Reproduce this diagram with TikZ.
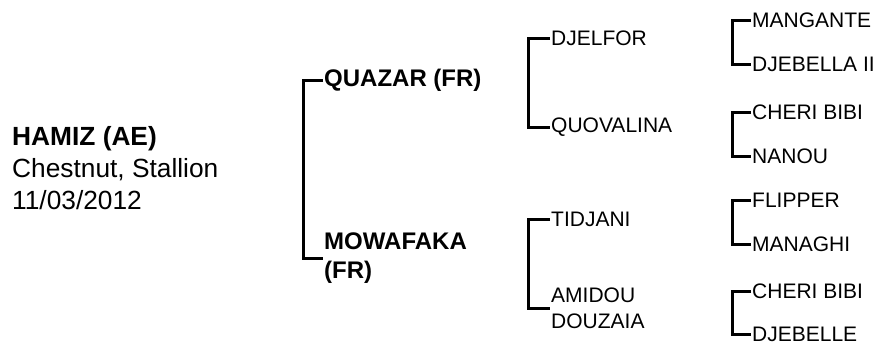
\documentclass[tikz,border=0pt]{standalone}
\usepackage{fontspec}
\setmainfont{Liberation Sans}

\begin{document}
\begin{tikzpicture}[
        x=1pt, y=-1pt,
        every node/.style={anchor=west, inner sep=0pt, inner xsep=1pt, align=left},
        horse/.style={font=\fontsize{26.3}{32}\selectfont},
        parent/.style={font=\fontsize{24}{29}\selectfont\bfseries},
        ancestor/.style={font=\fontsize{21}{26}\selectfont},
        bracket/.style={line width=3pt}
        ]
        \useasboundingbox (0,0) rectangle (879,341);

        \node[horse] (hamiz) at (11,168) {\textbf{HAMIZ (AE)}\\Chestnut, Stallion\\11/03/2012};

        \node[parent] (quazar) at (323,80) {QUAZAR (FR)};
        \node[parent] (mowafaka) at (323,258) {MOWAFAKA\\(FR)};

        \node[ancestor] (djelfor) at (550,38) {DJELFOR};
        \node[ancestor] (quovalina) at (550,127) {QUOVALINA};
        \node[ancestor] (tidjani) at (550,219) {TIDJANI};
        \node[ancestor] (amidou) at (550,308) {AMIDOU\\DOUZAIA};

        \node[ancestor] (mangante) at (751,20) {MANGANTE};
        \node[ancestor] (djebellaii) at (751,64) {DJEBELLA II};
        \node[ancestor] (cheribibi) at (751,112) {CHERI BIBI};
        \node[ancestor] (nanou) at (751,156) {NANOU};
        \node[ancestor] (flipper) at (751,200) {FLIPPER};
        \node[ancestor] (managhi) at (751,244) {MANAGHI};
        \node[ancestor] (cheribibiii) at (751,291) {CHERI BIBI};
        \node[ancestor] (djebelle) at (751,334) {DJEBELLE};

        \draw[bracket] (quazar.west) -- ++(-20,0) |- (mowafaka.west);
        \draw[bracket] (djelfor.west) -- ++(-22,0) |- (quovalina.west);
        \draw[bracket] (tidjani.west) -- ++(-22,0) |- (amidou.west);
        \draw[bracket] (mangante.west) -- ++(-19,0) |- (djebellaii.west);
        \draw[bracket] (cheribibi.west) -- ++(-19,0) |- (nanou.west);
        \draw[bracket] (flipper.west) -- ++(-19,0) |- (managhi.west);
        \draw[bracket] (cheribibiii.west) -- ++(-19,0) |- (djebelle.west);
    \end{tikzpicture}
\end{document}
